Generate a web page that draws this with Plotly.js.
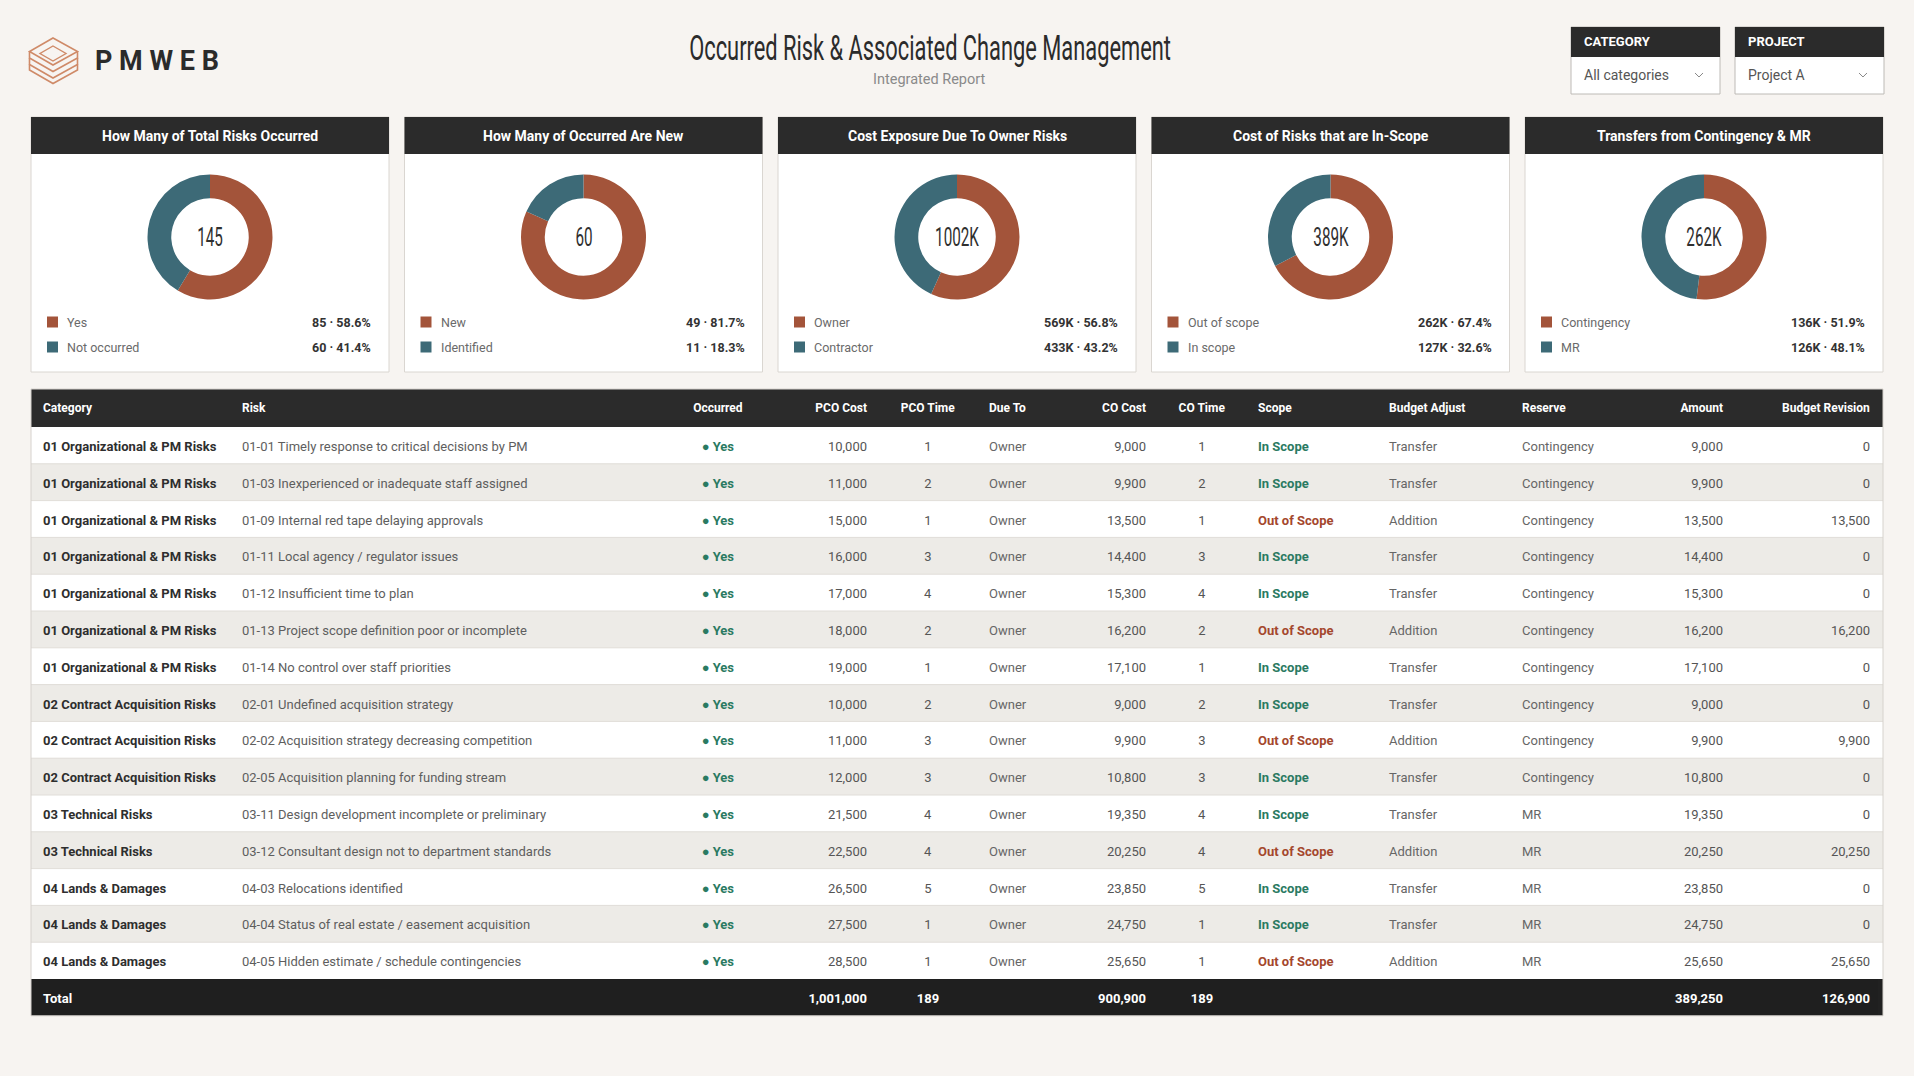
<!DOCTYPE html>
<html>
<head>
<meta charset="utf-8">
<script src="https://cdn.plot.ly/plotly-3.0.1.min.js"></script>
<style>
html,body{margin:0;padding:0;background:#f7f4f1;}
#chart{width:1914px;height:1076px;}
</style>
</head>
<body>
<div id="chart"></div>
<script>
// ---------------- DATA ----------------
const donutTitles = ["How Many of Total Risks Occurred","How Many of Occurred Are New","Cost Exposure Due To Owner Risks","Cost of Risks that are In-Scope","Transfers from Contingency & MR"];
const donutLabels = [["Yes","Not occurred"],["New","Identified"],["Owner","Contractor"],["Out of scope","In scope"],["Contingency","MR"]];
const donutValues = [[85,60],[49,11],[569,433],[262,127],[136,126]];
const donutUnits  = ["","","K","K","K"];

const tableHeaders = ["Category","Risk","Occurred","PCO Cost","PCO Time","Due To","CO Cost","CO Time","Scope","Budget Adjust","Reserve","Amount","Budget Revision"];
const colCategory = ["01 Organizational & PM Risks","01 Organizational & PM Risks","01 Organizational & PM Risks","01 Organizational & PM Risks","01 Organizational & PM Risks","01 Organizational & PM Risks","01 Organizational & PM Risks","02 Contract Acquisition Risks","02 Contract Acquisition Risks","02 Contract Acquisition Risks","03 Technical Risks","03 Technical Risks","04 Lands & Damages","04 Lands & Damages","04 Lands & Damages"];
const colRisk = ["01-01 Timely response to critical decisions by PM","01-03 Inexperienced or inadequate staff assigned","01-09 Internal red tape delaying approvals","01-11 Local agency / regulator issues","01-12 Insufficient time to plan","01-13 Project scope definition poor or incomplete","01-14 No control over staff priorities","02-01 Undefined acquisition strategy","02-02 Acquisition strategy decreasing competition","02-05 Acquisition planning for funding stream","03-11 Design development incomplete or preliminary","03-12 Consultant design not to department standards","04-03 Relocations identified","04-04 Status of real estate / easement acquisition","04-05 Hidden estimate / schedule contingencies"];
const colOccurred = ["Yes","Yes","Yes","Yes","Yes","Yes","Yes","Yes","Yes","Yes","Yes","Yes","Yes","Yes","Yes"];
const colPcoCost = [10000,11000,15000,16000,17000,18000,19000,10000,11000,12000,21500,22500,26500,27500,28500];
const colPcoTime = [1,2,1,3,4,2,1,2,3,3,4,4,5,1,1];
const colDueTo = ["Owner","Owner","Owner","Owner","Owner","Owner","Owner","Owner","Owner","Owner","Owner","Owner","Owner","Owner","Owner"];
const colCoCost = [9000,9900,13500,14400,15300,16200,17100,9000,9900,10800,19350,20250,23850,24750,25650];
const colCoTime = [1,2,1,3,4,2,1,2,3,3,4,4,5,1,1];
const colScope = ["In Scope","In Scope","Out of Scope","In Scope","In Scope","Out of Scope","In Scope","In Scope","Out of Scope","In Scope","In Scope","Out of Scope","In Scope","In Scope","Out of Scope"];
const colBudgetAdjust = ["Transfer","Transfer","Addition","Transfer","Transfer","Addition","Transfer","Transfer","Addition","Transfer","Transfer","Addition","Transfer","Transfer","Addition"];
const colReserve = ["Contingency","Contingency","Contingency","Contingency","Contingency","Contingency","Contingency","Contingency","Contingency","Contingency","MR","MR","MR","MR","MR"];
const colAmount = [9000,9900,13500,14400,15300,16200,17100,9000,9900,10800,19350,20250,23850,24750,25650];
const colBudgetRevision = [0,0,13500,0,0,16200,0,0,9900,0,0,20250,0,0,25650];

const totalPcoCost = 1001000, totalPcoTime = 189, totalCoCost = 900900, totalCoTime = 189, totalAmount = 389250, totalBudgetRevision = 126900;

const categoryOptions = ["All categories"];
const projectOptions = ["Project A"];

// ---------------- STYLE / LAYOUT HELPERS ----------------
const W = 1914, H = 1076;
const px = x => x / W;
const py = y => 1 - y / H;
const COPPER = "#a3543a", TEAL = "#3d6a77", DARK = "#2b2b2b";
const BG = "#f7f4f1";
const FONT = "Roboto, 'Noto Sans', sans-serif";
const fmt = v => Number(v).toLocaleString("en-US");

const shapes = [];
const annotations = [];
const traces = [];
const condensed = [];

function rect(x0,y0,x1,y1,fill,line,lw,layer){
  shapes.push({type:"rect",xref:"paper",yref:"paper",x0:px(x0),x1:px(x1),y0:py(y1),y1:py(y0),
    fillcolor:fill,line:{color:line||fill,width:lw===undefined?0:lw},layer:layer||"below"});
}
function hline(x0,x1,y,color){
  shapes.push({type:"line",xref:"paper",yref:"paper",x0:px(x0),x1:px(x1),y0:py(y),y1:py(y),
    line:{color:color,width:1},layer:"below"});
}
function path(points, color, width, closed){
  let d = points.map((p,i)=>(i?"L":"M")+px(p[0]).toFixed(5)+","+py(p[1]).toFixed(5)).join(" ");
  if(closed) d += " Z";
  shapes.push({type:"path",xref:"paper",yref:"paper",path:d,line:{color:color,width:width},fillcolor:"rgba(0,0,0,0)",layer:"above"});
}
function text(x,y,t,size,color,anchor,weight){
  annotations.push({xref:"paper",yref:"paper",x:px(x),y:py(y),text:t,showarrow:false,
    xanchor:anchor||"left",yanchor:"middle",borderpad:0,
    font:{size:size,color:color,family:FONT,weight:weight||400}});
  return annotations.length-1;
}

// ---------------- HEADER ----------------
const LC = "#cf8a68";
path([[53,38],[77.5,51.5],[53,65],[29.5,51.5]], LC, 1.6, true);
path([[53,46],[66,53.5],[53,61],[40,53.5]], LC, 1.4, true);
path([[29.5,51.5],[29.5,58],[53,71.5],[77.5,58],[77.5,51.5]], LC, 1.6, false);
path([[29.5,58],[29.5,64.5],[53,78],[77.5,64.5],[77.5,58]], LC, 1.6, false);
path([[29.5,64.5],[29.5,70],[53,83.5],[77.5,70],[77.5,64.5]], LC, 1.6, false);
text(94, 61, "P M W E B", 27, DARK, "left", 700);

condensed.push({i: text(929.5, 48, "Occurred Risk &amp; Associated Change Management", 35, DARK, "center", 400), w: 482});
text(929.5, 79, "Integrated Report", 14.5, "#8a8a8a", "center");

function dropdown(x0, label, value){
  rect(x0, 27, x0+149, 94, "#ffffff", "#bdbab6", 1);
  rect(x0, 27, x0+149, 57, DARK, DARK, 0);
  text(x0+12, 42, "<b>"+label+"</b>", 13, "#ffffff", "left");
  text(x0+12, 75, value, 14, "#555555", "left");
  path([[x0+124,73],[x0+128,77],[x0+132,73]], "#888888", 1, false);
}
dropdown(1571, "CATEGORY", categoryOptions[0]);
dropdown(1735, "PROJECT", projectOptions[0]);

// ---------------- DONUT CARDS ----------------
const cardLeft0 = 31, cardPitch = 373.5, cardW = 358;
const cardTop = 117, cardHeadBot = 154, cardBot = 372;
const donutCY = 237, donutR = 62.5;
for(let i=0;i<5;i++){
  const L = cardLeft0 + i*cardPitch, R = L + cardW, CX = L + cardW/2;
  rect(L, cardTop, R, cardBot, "#ffffff", "#dad6d1", 1);
  rect(L, cardTop, R, cardHeadBot, DARK, DARK, 0);
  text(CX, 136, "<b>"+donutTitles[i].replace("&","&amp;")+"</b>", 14, "#ffffff", "center");
  const vals = donutValues[i];
  const tot = vals[0] + vals[1];
  traces.push({
    type:"pie", values: vals, labels: donutLabels[i], hole:0.62, sort:false,
    direction:"clockwise", rotation:0, textinfo:"none", showlegend:false,
    marker:{colors:[COPPER,TEAL], line:{width:0}},
    hovertemplate:"%{label}: %{value}"+donutUnits[i]+"<extra></extra>",
    domain:{x:[px(CX-donutR), px(CX+donutR)], y:[py(donutCY+donutR), py(donutCY-donutR)]}
  });
  condensed.push({i: text(CX, donutCY, tot + donutUnits[i], 25, "#2f2f2f", "center", 400), sx: 0.61});
  const rowsY = [322, 347];
  const cols = [COPPER, TEAL];
  for(let k=0;k<2;k++){
    rect(L+16, rowsY[k]-5.5, L+27, rowsY[k]+5.5, cols[k], cols[k], 0, "above");
    text(L+35, rowsY[k], donutLabels[i][k], 12.5, "#6a6a6a", "left");
    const pct = (vals[k]/tot*100).toFixed(1);
    text(R-17, rowsY[k], "<b>"+vals[k]+donutUnits[i]+" · "+pct+"%</b>", 12.5, "#333333", "right");
  }
}

// ---------------- TABLE ----------------
const n = colCategory.length;
const B = s => "<b>"+s+"</b>";
const S = s => "<span>"+s+"</span>";
const GREEN = "#2a7a62", RUST = "#a4472d";
const cellVals = [
  colCategory.map(s=>B(s.replace("&","&amp;"))).concat([B("Total")]),
  colRisk.map(S).concat([""]),
  colOccurred.map(s=>"● "+B(s)).concat([""]),
  colPcoCost.map(v=>S(fmt(v))).concat([B(fmt(totalPcoCost))]),
  colPcoTime.map(v=>S(fmt(v))).concat([B(fmt(totalPcoTime))]),
  colDueTo.map(S).concat([""]),
  colCoCost.map(v=>S(fmt(v))).concat([B(fmt(totalCoCost))]),
  colCoTime.map(v=>S(fmt(v))).concat([B(fmt(totalCoTime))]),
  colScope.map(B).concat([""]),
  colBudgetAdjust.map(S).concat([""]),
  colReserve.map(S).concat([""]),
  colAmount.map(v=>S(fmt(v))).concat([B(fmt(totalAmount))]),
  colBudgetRevision.map(v=>S(fmt(v))).concat([B(fmt(totalBudgetRevision))])
];
const baseColors = ["#2e2e2e","#5e5e5e",GREEN,"#555555","#555555","#666666","#555555","#555555",null,"#666666","#666666","#555555","#555555"];
const fontColors = baseColors.map((c,ci)=>{
  const arr = [];
  for(let r=0;r<n;r++){
    if(ci===8) arr.push(colScope[r]==="In Scope" ? GREEN : RUST);
    else arr.push(c);
  }
  arr.push("#ffffff");
  return arr;
});
const aligns = ["left","left","center","right","center","left","right","center","left","left","left","right","right"];
const colWidths = [199,426,116,99,106,79,94,96,131,133,106,111,147];

// row stripes (backdrop of the table rows)
const tblL = 31, tblR = 1883, tblTop = 389, headH = 38, rowH = 36.8, textShift = 4;
rect(tblL, tblTop, tblR, tblTop+headH, DARK, DARK, 0);
for(let r=0;r<=n;r++){
  const y0 = tblTop + headH + r*rowH, y1 = y0 + rowH;
  const fill = r===n ? "#1f1f1f" : (r%2===0 ? "#ffffff" : "#edebe7");
  rect(tblL, y0, tblR, y1, fill, fill, 0);
  if(r>0 && r<n) hline(tblL, tblR, y0, "#e0ddd8");
}
rect(tblL, tblTop, tblR, tblTop+headH+(n+1)*rowH, "rgba(0,0,0,0)", "#d6d2cd", 1);

traces.push({
  type:"table",
  domain:{x:[px(35), px(1878)], y:[py(1026), py(tblTop+textShift)]},
  columnwidth: colWidths,
  header:{
    values: tableHeaders.map(B),
    align: aligns,
    height: headH,
    fill:{color:"rgba(0,0,0,0)"},
    line:{color:"rgba(0,0,0,0)", width:0},
    font:{family: FONT, size:12, color:"#ffffff"}
  },
  cells:{
    values: cellVals,
    align: aligns,
    height: rowH,
    fill:{color:"rgba(0,0,0,0)"},
    line:{color:"rgba(0,0,0,0)", width:0},
    font:{family: FONT, size:13, color: fontColors}
  }
});

const layout = {
  width: W, height: H,
  margin:{l:0,r:0,t:0,b:0,pad:0},
  paper_bgcolor: BG, plot_bgcolor: BG,
  showlegend:false,
  shapes: shapes,
  annotations: annotations,
  font:{family: FONT}
};
Plotly.newPlot("chart", traces, layout, {displayModeBar:false, responsive:false}).then(()=>{
  condensed.forEach(c=>{
    const t = document.querySelector('#chart .annotation[data-index="'+c.i+'"] text.annotation-text');
    if(!t) return;
    const bb = t.getBBox();
    const sx = c.w ? c.w/bb.width : c.sx;
    const cx = bb.x + bb.width/2;
    t.setAttribute("transform", "translate("+(cx*(1-sx))+",0) scale("+sx+",1)");
  });
});
</script>
</body>
</html>
